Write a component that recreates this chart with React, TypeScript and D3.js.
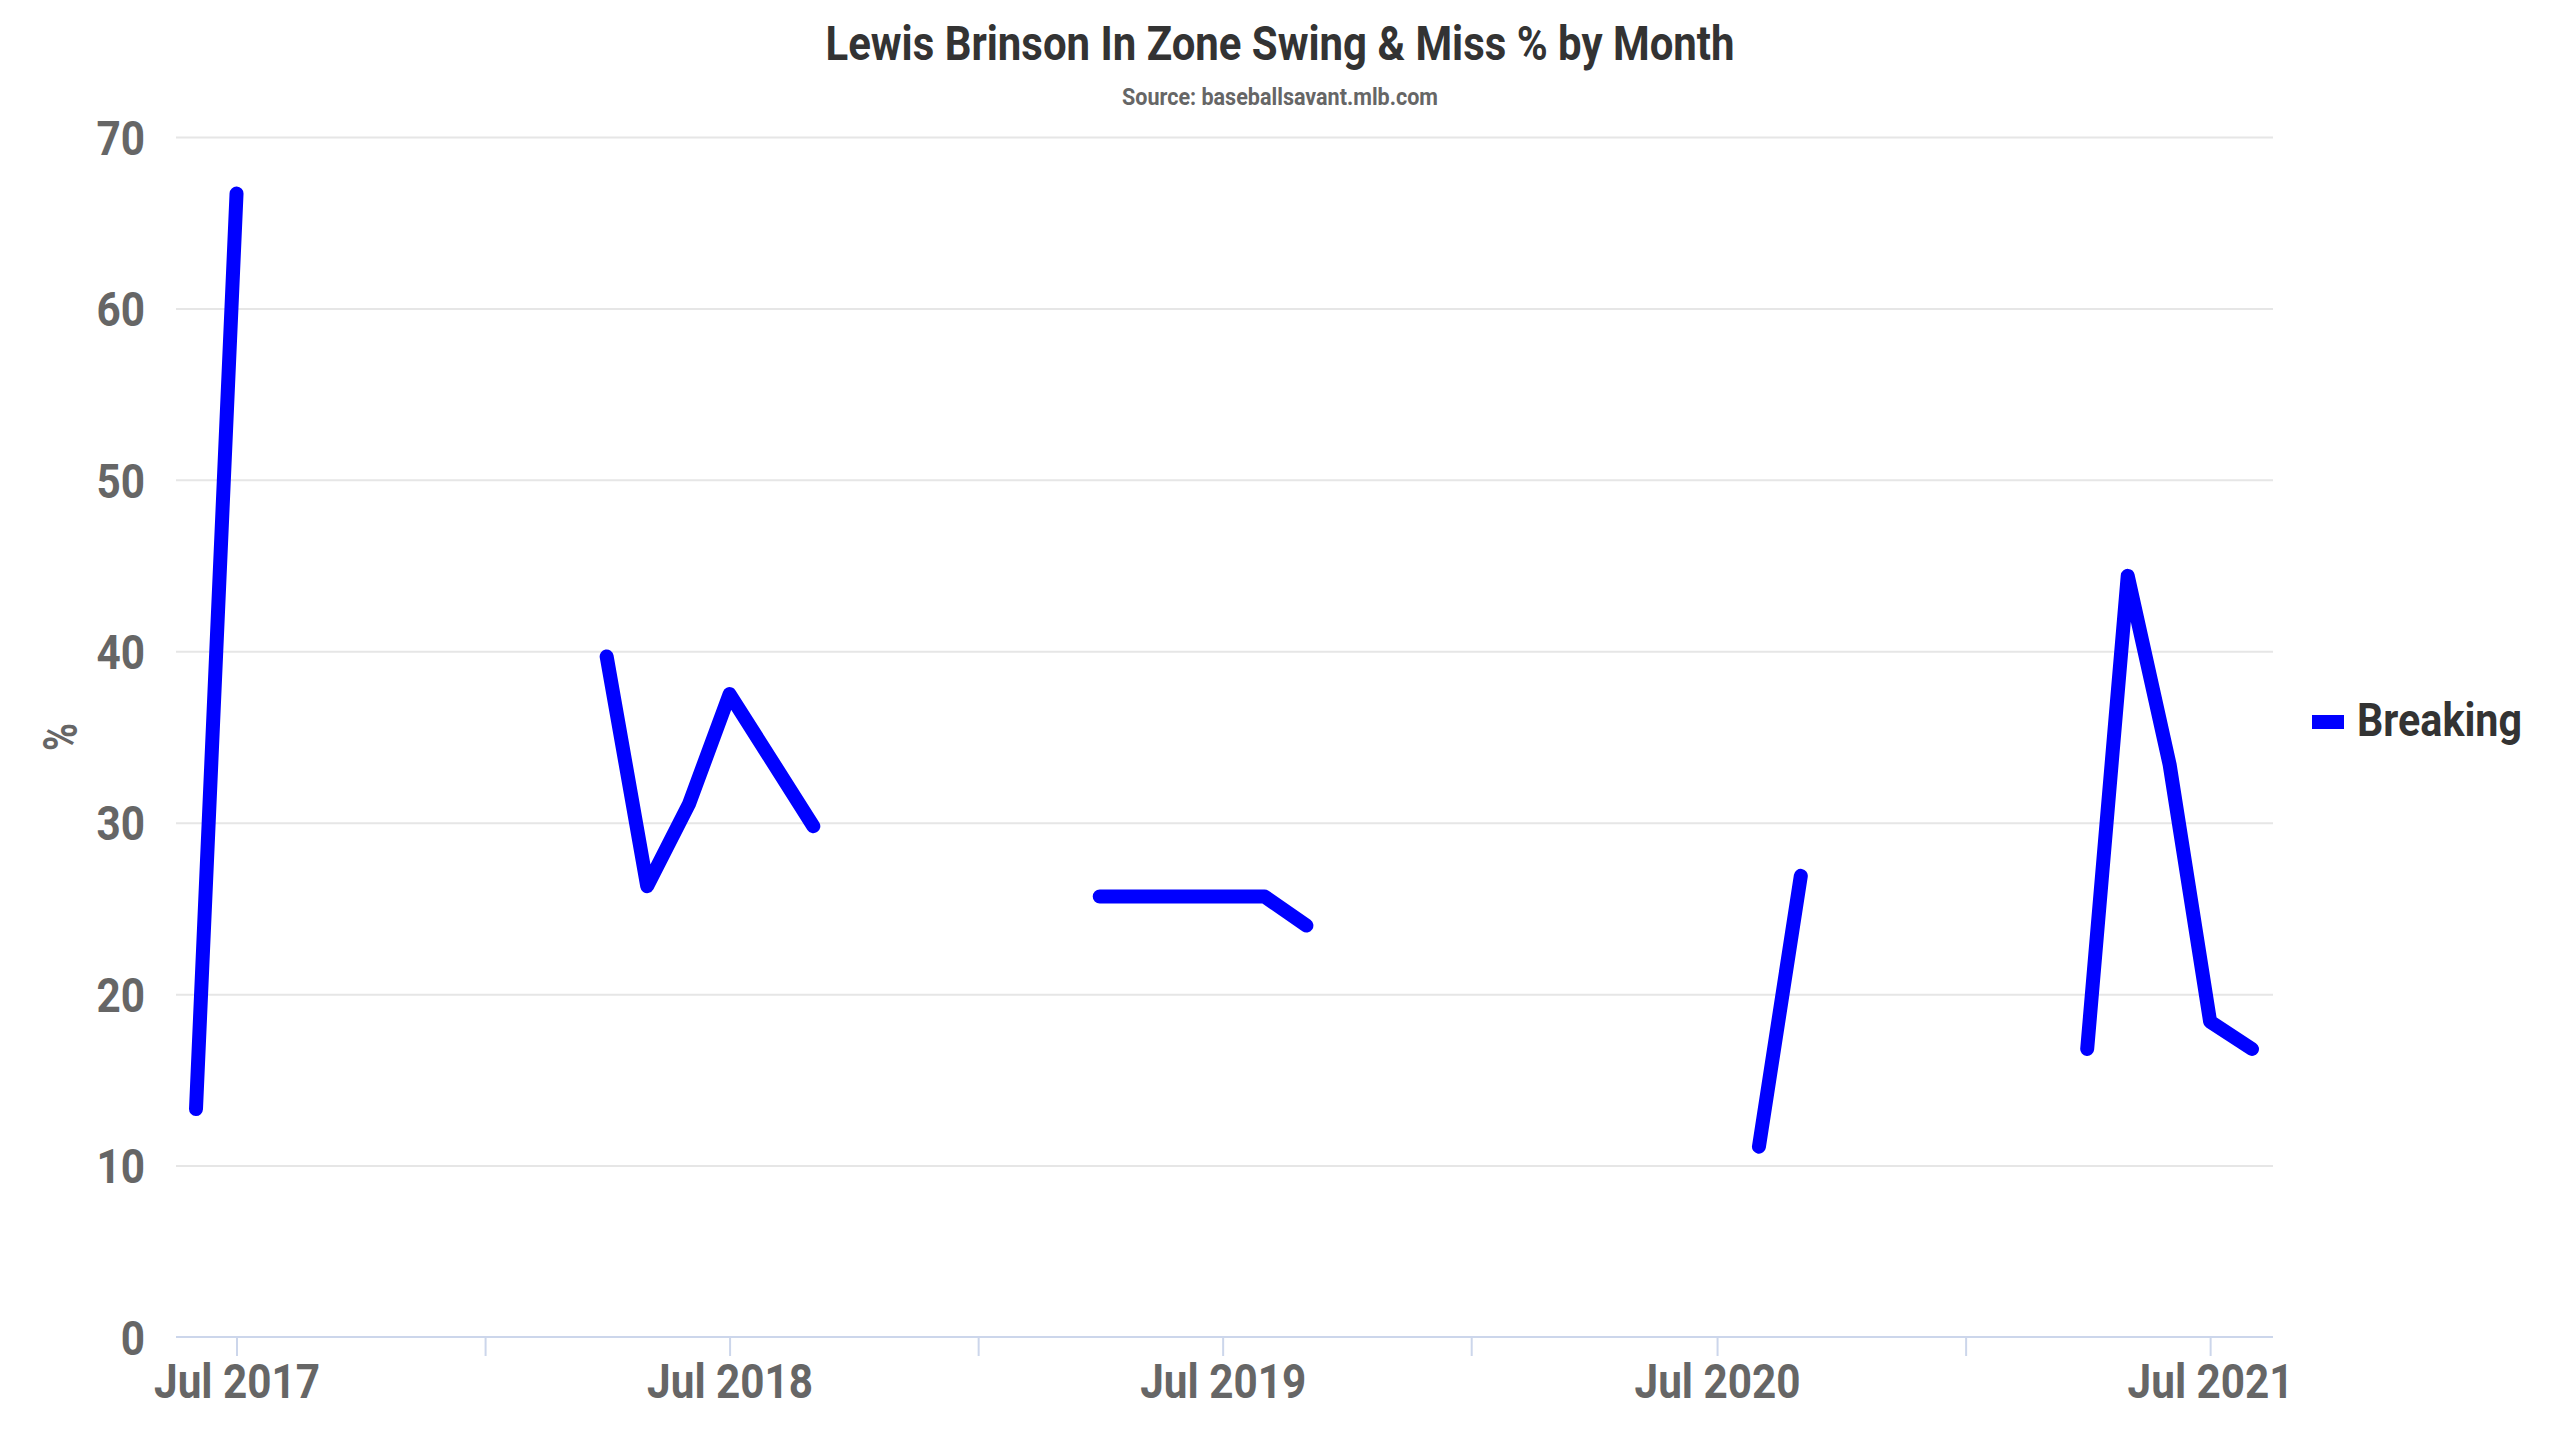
import React, { useEffect, useRef } from 'react';
import * as d3 from 'd3';

// monthly in-zone swing & miss %, breaking pitches
const MONTHS = [
  '2017-06', '2017-07',
  '2018-04', '2018-05', '2018-06', '2018-07', '2018-09',
  '2019-04', '2019-08', '2019-09',
  '2020-08', '2020-09',
  '2021-04', '2021-05', '2021-06', '2021-07', '2021-08'
];
const BREAKING = [
  13.3, 66.7,
  39.7, 26.3, 31.1, 37.5, 29.8,
  25.7, 25.7, 24.0,
  11.1, 26.9,
  16.8, 44.4, 33.4, 18.4, 16.8
];
const Y_TICKS = [0, 10, 20, 30, 40, 50, 60, 70];
const X_TICKS = [
  '2017-07', '2018-01', '2018-07', '2019-01', '2019-07',
  '2020-01', '2020-07', '2021-01', '2021-07'
];

const TITLE = 'Lewis Brinson In Zone Swing & Miss % by Month';
const SUBTITLE = 'Source: baseballsavant.mlb.com';
const SERIES_NAME = 'Breaking';
const Y_TITLE = '%';

const W = 2560;
const H = 1440;
const FONT = 'Roboto, "Noto Sans", sans-serif';

const App: React.FC = () => {
  const svgRef = useRef<SVGSVGElement>(null);

  useEffect(() => {
    document.body.style.margin = '0';
    document.body.style.overflow = 'hidden';
    if (!svgRef.current) return;

    const svg = d3.select(svgRef.current);
    svg.selectAll('*').remove();

    const plot = { left: 176, right: 2273, top: 137, bottom: 1337 };
    const parse = d3.timeParse('%Y-%m');
    const dates = MONTHS.map(m => parse(m) as Date);
    const points = dates.map((d, i) => ({ date: d, value: BREAKING[i] }));

    // squeeze Roboto down to the condensed look of the original
    const condense = (sel: d3.Selection<any, any, any, any>, target: number) => {
      sel.each(function () {
        const node = this as SVGTextElement;
        const w = node.getComputedTextLength();
        if (w > 0) node.setAttribute('textLength', String(target > 0 ? target : w * -target));
        node.setAttribute('lengthAdjust', 'spacingAndGlyphs');
      });
    };

    const x = d3.scaleTime()
      .domain(d3.extent(dates) as [Date, Date])
      .range([plot.left + 20, plot.right - 21]);
    const y = d3.scaleLinear().domain([0, 70]).range([plot.bottom, plot.top]);

    // Grid
    const grid = svg.append('g')
      .attr('transform', `translate(${plot.left},0)`)
      .call(d3.axisLeft(y).tickValues(Y_TICKS.filter(v => v > 0)).tickSize(-(plot.right - plot.left)).tickFormat(() => ''));
    grid.select('.domain').remove();
    grid.selectAll('line').attr('stroke', '#e6e6e6').attr('stroke-width', 2);

    // X axis
    const xTickDates = X_TICKS.map(m => parse(m) as Date);
    const xAxis = svg.append('g')
      .attr('transform', `translate(0,${plot.bottom})`)
      .call(
        d3.axisBottom(x)
          .tickValues(xTickDates)
          .tickSize(19)
          .tickFormat(d => ((d as Date).getMonth() === 6 ? d3.timeFormat('%b %Y')(d as Date) : ''))
      );
    xAxis.select('.domain').remove();
    xAxis.selectAll('line').attr('stroke', '#ccd6eb').attr('stroke-width', 2);
    const xLabels = xAxis.selectAll<SVGTextElement, Date>('text')
      .attr('y', 61)
      .attr('dy', 0)
      .attr('fill', '#666666')
      .style('font-family', FONT)
      .style('font-weight', 700)
      .style('font-size', '48px');

    let factor = 0.85;
    const probe = xLabels.filter(function () { return (this as SVGTextElement).textContent === 'Jul 2017'; });
    if (!probe.empty()) {
      const w = (probe.node() as SVGTextElement).getComputedTextLength();
      if (w > 0) factor = 166 / w;
    }
    condense(xLabels.filter(function () { return !!(this as SVGTextElement).textContent; }), -factor);

    svg.append('line')
      .attr('x1', plot.left).attr('x2', plot.right)
      .attr('y1', plot.bottom).attr('y2', plot.bottom)
      .attr('stroke', '#ccd6eb').attr('stroke-width', 2);

    // Y axis labels
    const yAxis = svg.append('g')
      .attr('transform', `translate(${plot.left},0)`)
      .call(d3.axisLeft(y).tickValues(Y_TICKS).tickSize(0).tickPadding(31).tickFormat(d3.format('d')));
    yAxis.select('.domain').remove();
    const yLabels = yAxis.selectAll('text')
      .attr('dy', '0.36em')
      .attr('fill', '#666666')
      .style('font-family', FONT)
      .style('font-weight', 700)
      .style('font-size', '48px');
    condense(yLabels, -factor);

    const yTitle = svg.append('text')
      .attr('transform', `translate(60,${(plot.top + plot.bottom) / 2}) rotate(-90)`)
      .attr('text-anchor', 'middle')
      .attr('dy', '0.36em')
      .attr('fill', '#666666')
      .style('font-family', FONT)
      .style('font-weight', 700)
      .style('font-size', '48px')
      .text(Y_TITLE);
    condense(yTitle, 28);

    // Series, broken where the months are far apart
    const segments: { date: Date; value: number }[][] = [];
    points.forEach((p, i) => {
      if (i === 0 || d3.timeMonth.count(points[i - 1].date, p.date) > 4) segments.push([]);
      segments[segments.length - 1].push(p);
    });
    const line = d3.line<{ date: Date; value: number }>()
      .x(d => x(d.date))
      .y(d => y(d.value));
    svg.append('g')
      .selectAll('path')
      .data(segments)
      .join('path')
      .attr('d', d => line(d) as string)
      .attr('fill', 'none')
      .attr('stroke', '#0000ff')
      .attr('stroke-width', 14)
      .attr('stroke-linejoin', 'round')
      .attr('stroke-linecap', 'round');

    // Title and subtitle
    const title = svg.append('text')
      .attr('x', W / 2).attr('y', 60)
      .attr('text-anchor', 'middle')
      .attr('fill', '#333333')
      .style('font-family', FONT)
      .style('font-weight', 700)
      .style('font-size', '49px')
      .text(TITLE);
    condense(title, 909);

    const subtitle = svg.append('text')
      .attr('x', W / 2).attr('y', 105)
      .attr('text-anchor', 'middle')
      .attr('fill', '#666666')
      .style('font-family', FONT)
      .style('font-weight', 700)
      .style('font-size', '24px')
      .text(SUBTITLE);
    condense(subtitle, 316);

    // Legend
    const legend = svg.append('g').attr('transform', 'translate(2312,722)');
    legend.append('line')
      .attr('x1', 0).attr('x2', 32)
      .attr('stroke', '#0000ff')
      .attr('stroke-width', 14);
    const legendText = legend.append('text')
      .attr('x', 45).attr('y', 14)
      .attr('fill', '#333333')
      .style('font-family', FONT)
      .style('font-weight', 700)
      .style('font-size', '47px')
      .text(SERIES_NAME);
    condense(legendText, 165);
  }, []);

  return (
    <svg
      ref={svgRef}
      width={W}
      height={H}
      style={{ position: 'absolute', left: 0, top: 0, background: '#ffffff' }}
    />
  );
};

export default App;
